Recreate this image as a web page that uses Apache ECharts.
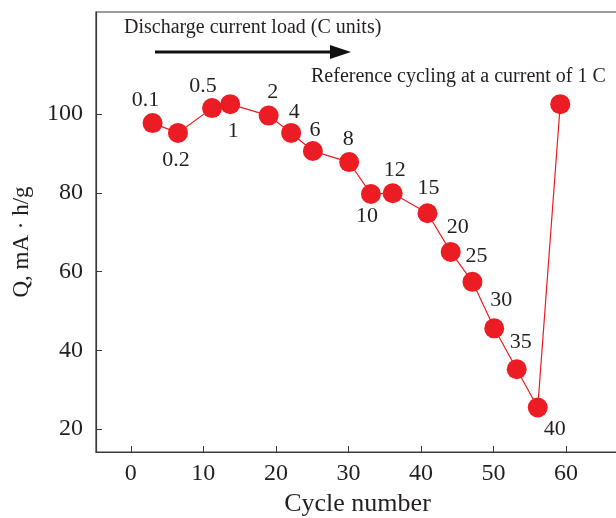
<!DOCTYPE html>
<html><head><meta charset="utf-8">
<script src="https://cdn.jsdelivr.net/npm/echarts@6/dist/echarts.min.js"></script>
<style>html,body{margin:0;padding:0;background:#fff}#c{width:616px;height:518px}</style>
</head><body><div id="c"></div>
<script>
// Data
const cycleNumbers = [3.0, 6.5, 11.2, 13.7, 19.0, 22.1, 25.1, 30.1, 33.1, 36.1, 40.9, 44.1, 47.1, 50.1, 53.2, 56.1, 59.2];
const capacity =     [97.7, 95.2, 101.5, 102.5, 99.6, 95.2, 90.6, 87.8, 79.7, 79.9, 74.8, 65.0, 57.4, 45.6, 35.2, 25.5, 102.5];
const rateLabels = ['0.1','0.2','0.5','1','2','4','6','8','10','12','15','20','25','30','35','40',''];
const xTicks = [0, 10, 20, 30, 40, 50, 60];
const yTicks = [20, 40, 60, 80, 100];
const xTitle = 'Cycle number';
const yTitle = 'Q, mA · h/g';
const note1 = 'Discharge current load (C units)';
const note2 = 'Reference cycling at a current of 1 C';

// Styling: label offsets (px) relative to each marker centre
const labelOffsets = [[-7,-23],[-2,27],[-9,-22],[3,27],[4,-23],[3,-21],[2,-21],[-1,-23],[-4,22],[2,-23],[1,-25],[7,-25],[4,-26],[7,-28],[4,-27],[17,22],[0,0]];

const FONT = '"Liberation Serif", "DejaVu Serif", serif';
const RED = '#ec1c24';
const INK = '#231f20';

const chart = echarts.init(document.getElementById('c'), null, {renderer: 'canvas'});
const seriesData = cycleNumbers.map((x, i) => ({
  value: [x, capacity[i]],
  name: rateLabels[i],
  label: {offset: labelOffsets[i]}
}));

chart.setOption({
  animation: false,
  backgroundColor: '#fff',
  grid: {left: 96, top: 12, right: -3, bottom: 66, outerBoundsMode: 'none', containLabel: false,
         show: true, borderColor: '#3a3a3a', borderWidth: 1.2, backgroundColor: 'transparent'},
  xAxis: {
    type: 'value', min: -4.8, max: 67.3,
    name: xTitle, nameLocation: 'middle', nameGap: 35,
    nameTextStyle: {fontFamily: FONT, fontSize: 26, color: INK},
    axisLine: {show: true, onZero: false, lineStyle: {color: '#3a3a3a', width: 1.2}},
    axisTick: {show: true, inside: true, length: 6, lineStyle: {color: '#3a3a3a'}, customValues: xTicks},
    axisLabel: {fontFamily: FONT, fontSize: 24, color: INK, margin: 10, customValues: xTicks},
    splitLine: {show: false}
  },
  yAxis: {
    type: 'value', min: 14.2, max: 125.9,
    name: yTitle, nameLocation: 'middle', nameGap: 63, nameRotate: 90,
    nameTextStyle: {fontFamily: FONT, fontSize: 23, color: INK, padding: [0, 20, 0, 0]},
    axisLine: {show: true, onZero: false, lineStyle: {color: '#3a3a3a', width: 1.2}},
    axisTick: {show: true, inside: true, length: 6, lineStyle: {color: '#3a3a3a'}, customValues: yTicks},
    axisLabel: {fontFamily: FONT, fontSize: 24, color: INK, margin: 13, customValues: yTicks},
    splitLine: {show: false}
  },
  series: [{
    type: 'line',
    data: seriesData,
    symbol: 'circle',
    symbolSize: 20,
    lineStyle: {color: RED, width: 1.2},
    itemStyle: {color: RED},
    label: {
      show: true, position: 'inside', align: 'center', verticalAlign: 'middle',
      fontFamily: FONT, fontSize: 22, color: INK,
      formatter: p => p.name
    },
    z: 3
  }],
  graphic: [
    {type: 'text', left: 124, top: 18, style: {text: note1, font: '20px ' + FONT, fill: INK}},
    {type: 'line', shape: {x1: 155, y1: 52, x2: 335, y2: 52}, style: {stroke: '#111', lineWidth: 3}},
    {type: 'polygon', shape: {points: [[330, 45], [351, 52], [330, 59]]}, style: {fill: '#111'}},
    {type: 'text', left: 311, top: 67, style: {text: note2, font: '20px ' + FONT, fill: INK}}
  ]
});
</script></body></html>
